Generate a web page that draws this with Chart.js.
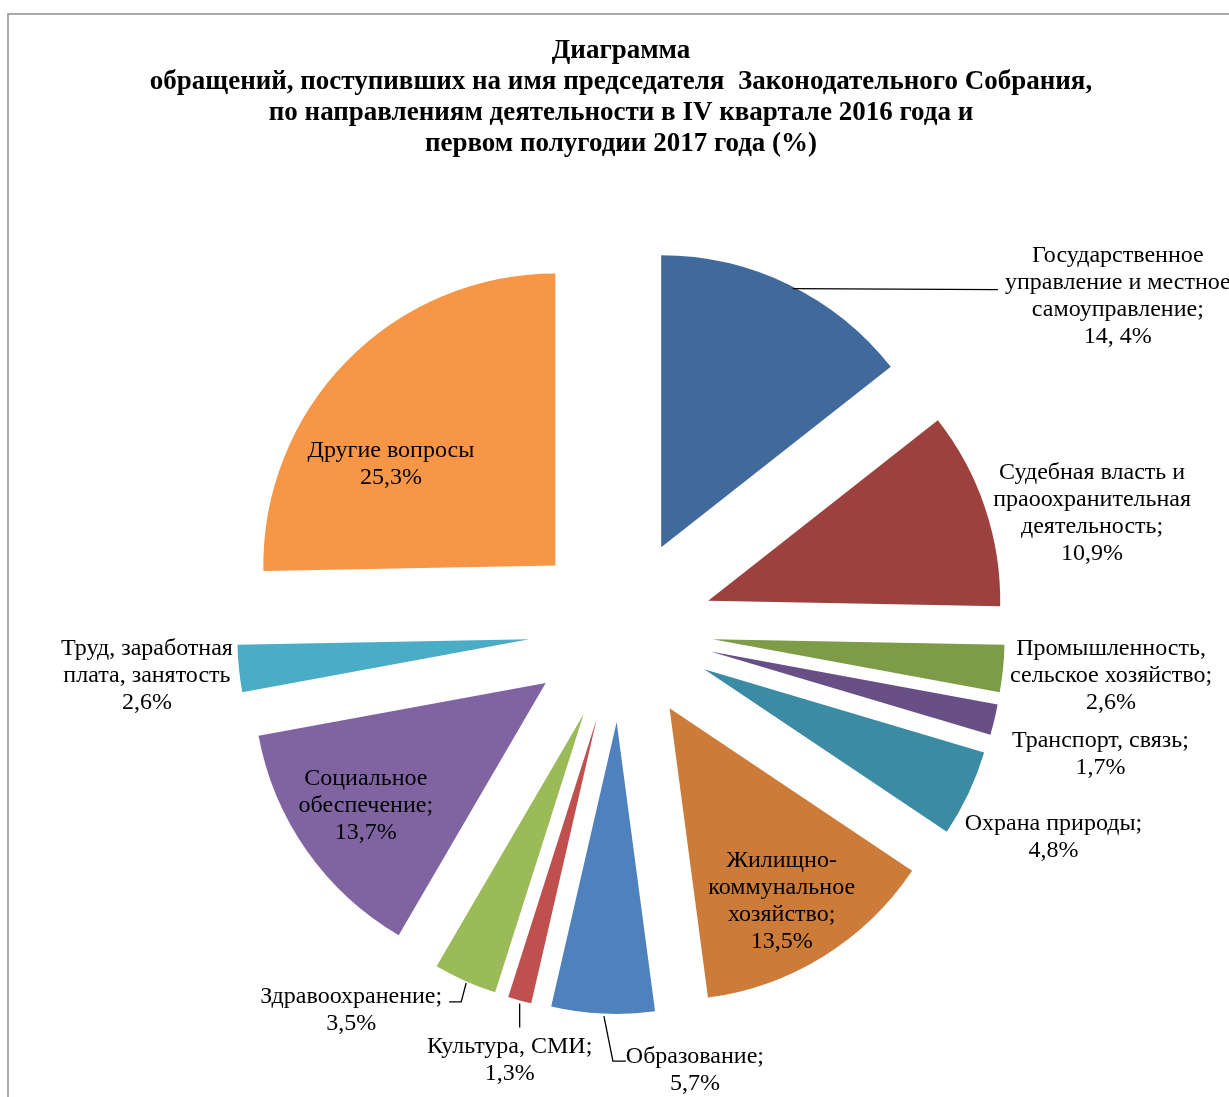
<!DOCTYPE html>
<html lang="ru">
<head>
<meta charset="utf-8">
<title>Диаграмма обращений</title>
<script src="https://cdn.jsdelivr.net/npm/chart.js@4.4.1/dist/chart.umd.min.js"></script>
<style>
  html, body { margin: 0; padding: 0; background: #fff; }
  #wrap { width: 1229px; height: 1097px; position: relative; overflow: hidden; }
</style>
</head>
<body>
<div id="wrap"><canvas id="chart" width="1229" height="1097"></canvas></div>
<script>
// chart data
const titleLines = [
    'Диаграмма',
    'обращений, поступивших на имя председателя  Законодательного Собрания,',
    'по направлениям деятельности в IV квартале 2016 года и',
    'первом полугодии 2017 года (%)'
];
const categories = [
    ['Государственное', 'управление и местное', 'самоуправление;'],
    ['Судебная власть и', 'праоохранительная', 'деятельность;'],
    ['Промышленность,', 'сельское хозяйство;'],
    ['Транспорт, связь;'],
    ['Охрана природы;'],
    ['Жилищно-', 'коммунальное', 'хозяйство;'],
    ['Образование;'],
    ['Культура, СМИ;'],
    ['Здравоохранение;'],
    ['Социальное', 'обеспечение;'],
    ['Труд, заработная', 'плата, занятость'],
    ['Другие вопросы']
];
const percents = [14.4, 10.9, 2.6, 1.7, 4.8, 13.5, 5.7, 1.3, 3.5, 13.7, 2.6, 25.3];
const valueLabels = ['14, 4%', '10,9%', '2,6%', '1,7%', '4,8%', '13,5%', '5,7%', '1,3%', '3,5%', '13,7%', '2,6%', '25,3%'];
const sliceColors = ['#416A9C', '#9D413E', '#7E9B48', '#684F86', '#3A8BA3', '#CC7B38',
                     '#4F81BD', '#C0504D', '#9BBB59', '#8064A2', '#4BACC6', '#F79646'];

// layout: label block centre and leader points, relative to the slice rim at mid angle
const explode = 92;
const lineH = 27;
const labelShift = [[329, 12], [107, 5], [108, 7.5], [106, 35], [85, 43.5], [-42, -55],
                    [92, 57], [-10, 59.6], [-114, 29.5], [59, -45], [-92, 7], [44, 103]];
const leaderPts = {
    0: [[4, 4], [209, 5]],
    6: [[1, 2.5], [10, 47.5], [23, 47.5]],
    7: [[0, 3], [0, 27]],
    8: [[-16, 21], [-4, 21], [1, 2]]
};
const serif = "'Liberation Serif', 'Times New Roman', serif";

// draws the slices pulled out from the centre, then labels
const explodedPie = {
    id: 'explodedPie',
    beforeDraw(chart) {
        const ctx = chart.ctx;
        ctx.save();
        ctx.strokeStyle = '#8e8e8e';
        ctx.lineWidth = 1.5;
        ctx.beginPath();
        ctx.moveTo(8, chart.height + 5);
        ctx.lineTo(8, 14);
        ctx.lineTo(chart.width + 5, 14);
        ctx.stroke();
        ctx.restore();
    },
    beforeDatasetDraw(chart, args) {
        const ctx = chart.ctx;
        args.meta.data.forEach(arc => {
            const mid = (arc.startAngle + arc.endAngle) / 2;
            ctx.save();
            ctx.translate(Math.cos(mid) * explode, Math.sin(mid) * explode);
            arc.draw(ctx);
            ctx.restore();
        });
        return false;
    },
    afterDatasetsDraw(chart) {
        const ctx = chart.ctx;
        const arcs = chart.getDatasetMeta(0).data;
        ctx.save();
        ctx.font = '24px ' + serif;
        ctx.fillStyle = '#000';
        ctx.strokeStyle = '#000';
        ctx.lineWidth = 1.3;
        ctx.textAlign = 'center';
        ctx.textBaseline = 'middle';
        arcs.forEach((arc, i) => {
            const mid = (arc.startAngle + arc.endAngle) / 2;
            const rimX = arc.x + Math.cos(mid) * (explode + arc.outerRadius);
            const rimY = arc.y + Math.sin(mid) * (explode + arc.outerRadius);
            const lines = categories[i].concat(valueLabels[i]);
            const cx = rimX + labelShift[i][0];
            const cy = rimY + labelShift[i][1];
            const top = cy - (lines.length - 1) * lineH / 2;
            lines.forEach((t, k) => ctx.fillText(t, cx, top + k * lineH));
            const pts = leaderPts[i];
            if (pts) {
                ctx.beginPath();
                pts.forEach(([px, py], k) => {
                    if (k === 0) ctx.moveTo(rimX + px, rimY + py);
                    else ctx.lineTo(rimX + px, rimY + py);
                });
                ctx.stroke();
            }
        });
        ctx.restore();
    }
};

new Chart(document.getElementById('chart'), {
    type: 'pie',
    data: {
        labels: categories.map(c => c.join(' ')),
        datasets: [{
            data: percents,
            backgroundColor: sliceColors,
            borderWidth: 0,
            offset: 0
        }]
    },
    options: {
        responsive: false,
        animation: false,
        radius: 292,
        layout: { padding: { left: 13, right: 0, top: 0, bottom: 0 } },
        plugins: {
            legend: { display: false },
            tooltip: { enabled: false },
            title: {
                display: true,
                text: titleLines,
                color: '#000',
                font: { family: serif, size: 27, weight: 'bold', lineHeight: 31 / 27 },
                padding: { top: 36, bottom: 3 }
            }
        }
    },
    plugins: [explodedPie]
});
</script>
</body>
</html>
